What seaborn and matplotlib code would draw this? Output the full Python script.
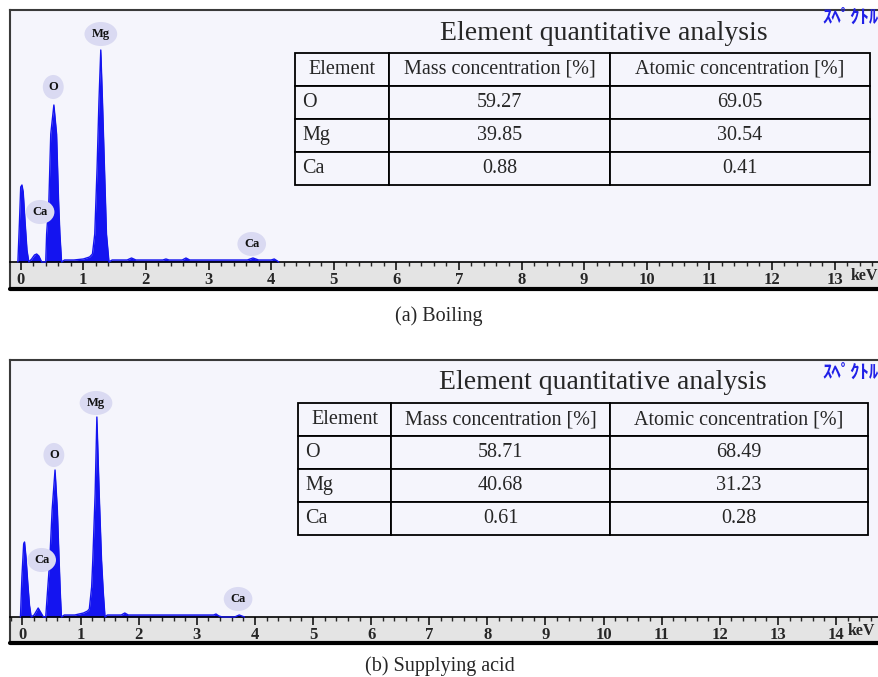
import pandas as pd
import seaborn as sns
import matplotlib.pyplot as plt
from matplotlib.ticker import MultipleLocator

# EDS spectra, energy in keV and counts (arbitrary units)
energy_a = [-0.045, -0.02, 0.0, 0.02, 0.04, 0.07, 0.10, 0.13, 0.175, 0.22, 0.255, 0.29, 0.335,
            0.40, 0.414, 0.45, 0.48, 0.53, 0.573, 0.605, 0.626, 0.653, 0.70, 0.85, 1.00, 1.10,
            1.146, 1.183, 1.22, 1.25, 1.279, 1.306, 1.338, 1.37, 1.41, 1.46, 1.70, 1.77, 1.84,
            2.27, 2.32, 2.37, 2.58, 2.64, 2.70, 3.62, 3.71, 3.80, 4.00, 4.05, 4.10, 4.12]
counts_a = [0, 40, 75, 77, 70, 40, 12, 0, 3, 7, 8, 6, 0,
            0, 28, 61, 128, 157, 128, 61, 28, 0, 2, 2, 3, 5,
            8, 28, 94, 161, 212, 161, 94, 28, 0, 2, 2, 4, 2,
            2, 3, 2, 2, 4, 2, 2, 4, 2, 2, 3, 1, 0]

energy_b = [-0.035, -0.01, 0.02, 0.035, 0.06, 0.09, 0.12, 0.15, 0.20, 0.27, 0.36,
            0.40, 0.43, 0.47, 0.51, 0.56, 0.60, 0.63, 0.65, 0.67, 0.72, 0.90, 1.05, 1.12,
            1.15, 1.19, 1.21, 1.25, 1.28, 1.32, 1.36, 1.39, 1.42, 1.46, 1.70, 1.76, 1.82,
            3.29, 3.33, 3.38, 3.44, 3.65, 3.73, 3.82]
counts_b = [0, 40, 73, 75, 60, 35, 12, 0, 2, 9, 0,
            0, 25, 57, 107, 147, 107, 57, 25, 0, 2, 2, 4, 6,
            8, 30, 57, 123, 200, 123, 57, 25, 0, 2, 2, 4, 2,
            2, 3, 1, 0, 0, 2, 0]

peak_labels = ["Mg", "O", "Ca", "Ca"]

# quantitative tables
col_labels = ["Element", "Mass concentration [%]", "Atomic concentration [%]"]
elements = ["O", "Mg", "Ca"]
mass_a = ["59.27", "39.85", "0.88"]
atomic_a = ["69.05", "30.54", "0.41"]
mass_b = ["58.71", "40.68", "0.61"]
atomic_b = ["68.49", "31.23", "0.28"]

table_title = "Element quantitative analysis"
corner_text = "ｽﾍﾟｸﾄﾙ"
captions = ["(a) Boiling", "(b) Supplying acid"]

sns.set_style("white")
plt.rcParams['font.family'] = ['Liberation Serif', 'DejaVu Serif']

W, H = 879, 677
BG = '#F5F5FC'
STRIP = '#E4E4E4'
BLUE = '#1414F0'


def px_box(x0, y0, x1, y1):
    return [x0 / W, 1 - y1 / H, (x1 - x0) / W, (y1 - y0) / H]


fig = plt.figure(figsize=(W / 100, H / 100), dpi=100)
fig.patch.set_facecolor('white')

panels = [
    dict(energy=energy_a, counts=counts_a, mass=mass_a, atomic=atomic_a,
         frame=(10, 10, 879, 289), xlim=(-0.171, 13.71), ylim=(-27, 252), kev_x=13.25,
         label_pos=[(1.28, 228), (0.52, 175), (0.31, 50), (3.69, 18)],
         table=(295, 53, 870, 185), title_xy=(604, 33), corner_xy=(822, 17),
         caption_xy=(439, 316)),
    dict(energy=energy_b, counts=counts_b, mass=mass_b, atomic=atomic_b,
         frame=(10, 360, 879, 643), xlim=(-0.215, 14.74), ylim=(-26, 257), kev_x=14.2,
         label_pos=[(1.265, 214), (0.54, 162), (0.33, 57), (3.71, 18)],
         table=(298, 403, 868, 535), title_xy=(603, 382), corner_xy=(822, 372),
         caption_xy=(440, 666)),
]

for p, caption in zip(panels, captions):
    ax = fig.add_axes(px_box(*p['frame']))
    ax.set_facecolor(BG)
    ax.set_xlim(*p['xlim'])
    ax.set_ylim(*p['ylim'])
    ax.axhspan(p['ylim'][0], 0, color=STRIP, lw=0, zorder=0)

    df = pd.DataFrame({'energy': p['energy'], 'counts': p['counts']})
    ax.fill_between(df['energy'], 0, df['counts'], color=BLUE, lw=0, zorder=2)
    sns.lineplot(data=df, x='energy', y='counts', ax=ax, color=BLUE, lw=1.0, zorder=3)
    ax.set_xlabel('')
    ax.set_ylabel('')

    for lab, (x, y) in zip(peak_labels, p['label_pos']):
        ax.text(x, y, lab, ha='center', va='center', fontsize=9, fontweight='bold',
                color='#111111', zorder=4,
                bbox=dict(boxstyle='ellipse,pad=0.2', fc='#DADAF2', ec='none'))

    # energy axis strip
    ax.spines['bottom'].set_position(('data', 0))
    ax.spines['bottom'].set_color('black')
    ax.spines['bottom'].set_linewidth(1.2)
    ax.spines['right'].set_visible(False)
    for s in ['left', 'top']:
        ax.spines[s].set_color('#3A3A3A')
        ax.spines[s].set_linewidth(1.5)
    ax.axhline(p['ylim'][0], color='black', lw=3, clip_on=False, zorder=5)
    ax.xaxis.set_major_locator(MultipleLocator(1))
    ax.xaxis.set_minor_locator(MultipleLocator(0.2))
    ax.tick_params(axis='x', which='major', direction='out', length=6, width=1.3,
                   pad=1.5, labelsize=12, bottom=True)
    ax.tick_params(axis='x', which='minor', direction='out', length=3, width=1, bottom=True)
    ax.set_yticks([])
    for t in ax.get_xticklabels():
        t.set_fontweight('bold')
    ax.text(p['kev_x'], -14, 'keV', ha='left', va='center', fontsize=11.5, fontweight='bold')

    # table of concentrations
    tax = fig.add_axes(px_box(*p['table']))
    tax.axis('off')
    cells = [[e, m, a] for e, m, a in zip(elements, p['mass'], p['atomic'])]
    tbl = tax.table(cellText=cells, colLabels=col_labels, cellLoc='center',
                    colWidths=[94, 221, 260], bbox=[0, 0, 1, 1])
    tbl.auto_set_font_size(False)
    tbl.set_fontsize(14.5)
    for (r, c), cell in tbl.get_celld().items():
        cell.set_facecolor(BG)
        cell.set_edgecolor('black')
        cell.set_linewidth(1.3)
        if c == 0 and r > 0:
            cell.get_text().set_horizontalalignment('left')
            cell.PAD = 0.08

    tx, ty = p['title_xy']
    fig.text(tx / W, 1 - ty / H, table_title, ha='center', va='center', fontsize=20)
    cx, cy = p['corner_xy']
    fig.text(cx / W, 1 - cy / H, corner_text, ha='left', va='center', fontsize=13.5,
             color='#2020E8', fontweight='bold', family=['Noto Sans CJK JP', 'DejaVu Sans'])
    kx, ky = p['caption_xy']
    fig.text(kx / W, 1 - ky / H, caption, ha='center', va='center', fontsize=14.5)

fig.savefig('out.png', dpi=100, facecolor='white')
